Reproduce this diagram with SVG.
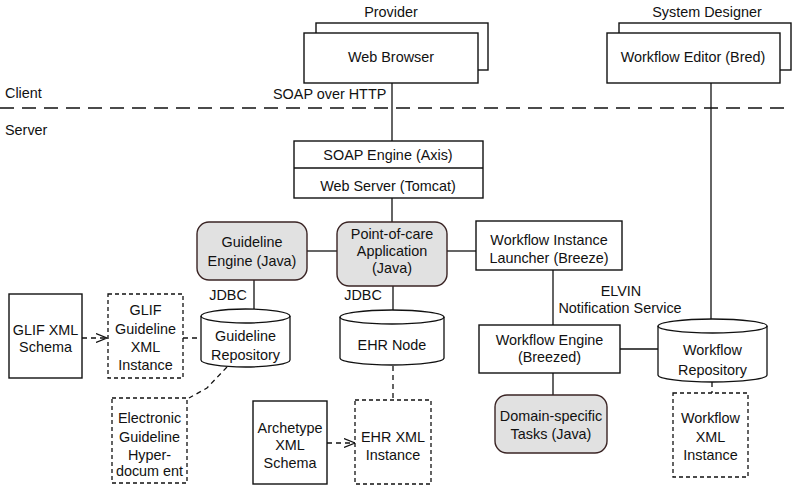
<svg xmlns="http://www.w3.org/2000/svg" width="799" height="496" viewBox="0 0 799 496">
<style>
text{font-family:"Liberation Sans",Arial,sans-serif;font-size:14.4px;fill:#111;text-anchor:middle}
.l{text-anchor:start}
.box{fill:#fff;stroke:#111;stroke-width:1.4}
.rbox{fill:#e1e1e1;stroke:#3a2424;stroke-width:1.4}
.dbox{fill:#fff;stroke:#111;stroke-width:1.3;stroke-dasharray:4 3}
.cyl{fill:#fff;stroke:#111;stroke-width:1.3}
.ln{fill:none;stroke:#111;stroke-width:1.3}
.dl{fill:none;stroke:#111;stroke-width:1.3;stroke-dasharray:5 4}
</style>
<defs>
<marker id="open" viewBox="0 0 12 10" refX="11" refY="5" markerWidth="12" markerHeight="10" markerUnits="userSpaceOnUse" orient="auto">
<path d="M0,0.5 L11,5 L0,9.5" fill="none" stroke="#111" stroke-width="1.2"/>
</marker>
</defs>
<rect width="799" height="496" fill="#fff"/>

<g id="connectors">
<line class="ln" x1="392" y1="83" x2="392" y2="141"/>
<line class="ln" x1="711" y1="83" x2="711" y2="319"/>
<line class="ln" x1="392" y1="198" x2="392" y2="222"/>
<line class="ln" x1="307" y1="251" x2="337" y2="251"/>
<line class="ln" x1="447" y1="251" x2="476" y2="251"/>
<line class="ln" x1="254" y1="280" x2="254" y2="309"/>
<line class="ln" x1="393" y1="286" x2="393" y2="310"/>
<line class="ln" x1="553" y1="270" x2="553" y2="325"/>
<line class="ln" x1="620" y1="349" x2="658" y2="349"/>
<line class="ln" x1="553" y1="373" x2="553" y2="395"/>
<line class="dl" x1="183" y1="338" x2="201" y2="338"/>
<path class="dl" d="M227,367 L207,388 L189,398"/>
<line class="dl" x1="393" y1="366" x2="393" y2="400"/>
<line class="dl" x1="712" y1="382" x2="712" y2="393"/>
<line class="dl" x1="82" y1="338" x2="107" y2="338" marker-end="url(#open)"/>
<line class="dl" x1="327" y1="443" x2="355" y2="443" marker-end="url(#open)"/>
<line x1="0" y1="108" x2="788" y2="108" stroke="#111" stroke-width="1.3" stroke-dasharray="14 8"/>
</g>

<g id="lane-labels">
<text class="l" x="5" y="98">Client</text>
<text class="l" x="5" y="135">Server</text>
<text class="l" x="273" y="99">SOAP over HTTP</text>
</g>

<g id="web-browser">
<text x="391" y="17">Provider</text>
<rect class="box" x="316" y="23" width="172" height="47"/>
<rect class="box" x="304" y="33" width="174" height="50"/>
<text x="391" y="62">Web Browser</text>
</g>

<g id="workflow-editor">
<text x="707" y="17">System Designer</text>
<rect class="box" x="619" y="23" width="172" height="47"/>
<rect class="box" x="607" y="33" width="173" height="50"/>
<text x="693" y="62">Workflow Editor (Bred)</text>
</g>

<g id="soap-engine">
<rect class="box" x="294" y="141" width="189" height="57"/>
<line class="ln" x1="294" y1="168" x2="483" y2="168"/>
<text x="388" y="160">SOAP Engine (Axis)</text>
<text x="388" y="191">Web Server (Tomcat)</text>
</g>

<g id="guideline-engine">
<rect class="rbox" x="197" y="222" width="110" height="58" rx="12"/>
<text x="252" y="247">Guideline</text>
<text x="252" y="266">Engine (Java)</text>
</g>

<g id="point-of-care">
<rect class="rbox" x="337" y="222" width="110" height="64" rx="12"/>
<text x="392" y="239">Point-of-care</text>
<text x="392" y="256">Application</text>
<text x="392" y="273">(Java)</text>
</g>

<g id="workflow-instance-launcher">
<rect class="box" x="476" y="221" width="146" height="49"/>
<text x="549" y="245">Workflow Instance</text>
<text x="549" y="263">Launcher (Breeze)</text>
</g>

<g id="elvin">
<text x="621" y="296">ELVIN</text>
<text x="620" y="313">Notification Service</text>
</g>

<g id="jdbc-labels">
<text x="228" y="300">JDBC</text>
<text x="363" y="300">JDBC</text>
</g>

<g id="glif-schema">
<rect class="box" x="9" y="294" width="73" height="84"/>
<text x="45.5" y="335">GLIF XML</text>
<text x="45.5" y="352">Schema</text>
</g>

<g id="glif-instance">
<rect class="dbox" x="108" y="294" width="75" height="84"/>
<text x="145.5" y="315">GLIF</text>
<text x="145.5" y="334">Guideline</text>
<text x="145.5" y="352">XML</text>
<text x="145.5" y="370">Instance</text>
</g>

<g id="guideline-repository">
<path class="cyl" d="M201,316 L201,360 A44.5,7 0 0 0 290,360 L290,316 A44.5,7 0 0 0 201,316 Z"/>
<path class="ln" d="M201,316 A44.5,7 0 0 0 290,316"/>
<text x="245.5" y="341">Guideline</text>
<text x="245.5" y="360">Repository</text>
</g>

<g id="ehr-node">
<path class="cyl" d="M340,317 L340,358 A52,7 0 0 0 444,358 L444,317 A52,7 0 0 0 340,317 Z"/>
<path class="ln" d="M340,317 A52,7 0 0 0 444,317"/>
<text x="392" y="350">EHR Node</text>
</g>

<g id="workflow-engine">
<rect class="box" x="479" y="325" width="141" height="48"/>
<text x="549.5" y="345">Workflow Engine</text>
<text x="549.5" y="362">(Breezed)</text>
</g>

<g id="workflow-repository">
<path class="cyl" d="M658,326 L658,375 A54.5,7 0 0 0 767,375 L767,326 A54.5,7 0 0 0 658,326 Z"/>
<path class="ln" d="M658,326 A54.5,7 0 0 0 767,326"/>
<text x="712.5" y="355">Workflow</text>
<text x="712.5" y="375">Repository</text>
</g>

<g id="electronic-guideline">
<rect class="dbox" x="112" y="398" width="75" height="85"/>
<text x="149.5" y="423">Electronic</text>
<text x="149.5" y="442">Guideline</text>
<text x="149.5" y="460">Hyper-</text>
<text x="149.5" y="476">docum ent</text>
</g>

<g id="archetype-schema">
<rect class="box" x="253" y="401" width="74" height="83"/>
<text x="290" y="433">Archetype</text>
<text x="290" y="450">XML</text>
<text x="290" y="468">Schema</text>
</g>

<g id="ehr-instance">
<rect class="dbox" x="355" y="400" width="76" height="84"/>
<text x="393" y="442">EHR XML</text>
<text x="393" y="460">Instance</text>
</g>

<g id="domain-tasks">
<rect class="rbox" x="495" y="395" width="112" height="58" rx="12"/>
<text x="551" y="421">Domain-specific</text>
<text x="551" y="439">Tasks (Java)</text>
</g>

<g id="workflow-instance">
<rect class="dbox" x="673" y="393" width="75" height="84"/>
<text x="710.5" y="423">Workflow</text>
<text x="710.5" y="442">XML</text>
<text x="710.5" y="460">Instance</text>
</g>
</svg>
